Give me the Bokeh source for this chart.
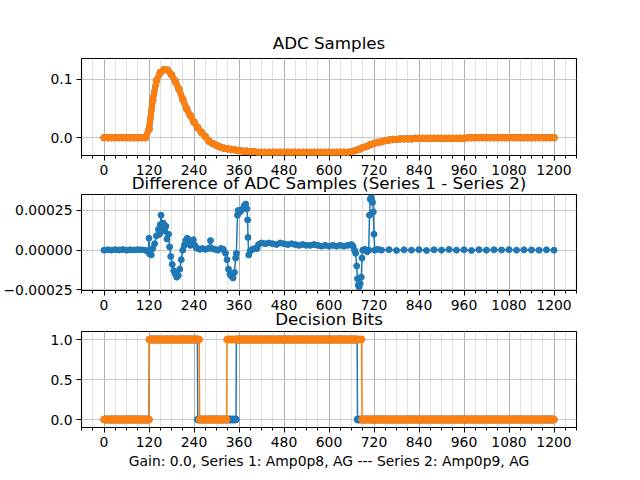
import numpy as np
from bokeh.plotting import figure
from bokeh.layouts import column
from bokeh.models import Range1d, FixedTicker, CustomJSTickFormatter, Title
from bokeh.embed import file_html
from bokeh.resources import INLINE

BLUE = "#1f77b4"
ORANGE = "#ff7f0e"
FONT = "DejaVu Sans"

# ADC samples, read every 10 samples (series 1 and 2 overlap at this scale)
adc_x = list(range(0, 1201, 10))
adc_samples = [
    0.0, 0.0, 0.0, 0.0, 0.0, 0.0, 0.0, 0.0, 0.0, 0.0, 0.0, 0.0,
    0.014, 0.065, 0.098, 0.112, 0.117, 0.116, 0.108, 0.097, 0.083, 0.066,
    0.050, 0.038, 0.027, 0.017, 0.009, 0.002, -0.006, -0.010, -0.013, -0.016,
    -0.018, -0.019, -0.020, -0.021, -0.022, -0.023, -0.023, -0.024, -0.024,
    -0.025, -0.025, -0.025, -0.025, -0.025, -0.025, -0.025, -0.025, -0.025,
    -0.025, -0.025, -0.025, -0.025, -0.025, -0.025, -0.025, -0.025, -0.025,
    -0.025, -0.025, -0.025, -0.025, -0.025, -0.025, -0.025,
    -0.024, -0.022, -0.020, -0.017, -0.015, -0.012, -0.010, -0.008, -0.007,
    -0.005, -0.004, -0.003, -0.003, -0.002, -0.002, -0.002, -0.002, -0.001,
    -0.001, -0.001, -0.001, -0.001, -0.001, -0.001, -0.001, -0.001, -0.001,
    -0.001, -0.001, -0.001, -0.001,
    0.0, 0.0, 0.0, 0.0, 0.0, 0.0, 0.0, 0.0, 0.0, 0.0, 0.0, 0.0, 0.0,
    0.0, 0.0, 0.0, 0.0, 0.0, 0.0, 0.0, 0.0, 0.0, 0.0, 0.0, 0.0,
]

# difference series 1 - series 2, in units of 1e-4
diff_x = [0, 10, 20, 30, 40, 50, 60, 70, 80, 90, 100, 110, 118, 120, 122, 126,
          130, 135, 140, 145, 148, 150, 152, 155, 158, 162, 165, 168, 172, 175,
          178, 182, 186, 190, 194, 198, 202, 206, 210, 214, 218, 222, 226, 230,
          234, 238, 242, 246, 250, 256, 262, 270, 278, 284, 288, 296, 304, 312,
          318, 324, 328, 332, 336, 340, 344, 348, 351, 353, 356, 358, 362, 366,
          370, 374, 378, 381, 383, 384, 386, 390, 396, 402, 408, 412, 420, 430,
          440, 450, 460, 470, 480, 490, 500, 510, 520, 530, 540, 550, 560, 570,
          580, 590, 600, 610, 620, 630, 640, 650, 660, 664, 668, 671, 674, 676,
          678, 680, 683, 686, 688, 690, 696, 702, 706, 708, 710, 712, 714, 716,
          718, 720, 722, 730, 740, 760, 780, 800, 820, 840, 860, 880, 900, 920,
          940, 960, 980, 1000, 1020, 1040, 1060, 1080, 1100, 1120, 1140, 1160,
          1180, 1200]
diff_e4 = [0.0, 0.02, 0.0, 0.03, 0.01, 0.04, 0.0, 0.02, 0.01, 0.03, 0.02, 0.0,
           -0.1, 0.75, -0.25, -0.3, 0.1, 0.4, 0.9, 1.3, 1.0, 1.6, 2.2, 1.5, 1.7,
           1.2, 1.5, 0.7, 1.0, 0.2, -0.4, -0.9, -1.3, -1.5, -1.7, -1.6, -1.2,
           -0.6, 0.0, 0.3, 0.6, 0.75, 0.6, 0.3, 0.5, 0.65, 0.3, 0.15, 0.1, 0.05,
           0.1, 0.05, 0.1, 0.6, 0.1, 0.05, 0.0, 0.1, 0.05, -0.2, -0.6, -1.2,
           -1.5, -1.65, -1.75, -1.4, -0.5, -0.2, 2.2, 2.5, 2.4, 2.5, 2.6, 2.8,
           2.9, 2.6, 1.9, 0.8, -0.3, -0.05, 0.05, 0.1, 0.1, 0.35, 0.45, 0.4,
           0.45, 0.4, 0.35, 0.45, 0.4, 0.35, 0.4, 0.35, 0.3, 0.35, 0.3, 0.3,
           0.35, 0.3, 0.25, 0.3, 0.25, 0.3, 0.25, 0.3, 0.25, 0.3, 0.35, 0.25,
           0.0, -0.2, -1.0, -1.8, -2.2, -2.3, -2.1, -1.7, -0.5, 0.0, 0.05, -0.1,
           0.0, 2.2, 3.2, 3.3, 3.1, 3.0, 2.4, 1.0, 0.0, 0.05, 0.0, 0.03, -0.02,
           0.02, 0.0, 0.03, -0.02, 0.02, 0.0, 0.04, 0.0, 0.02, -0.02, 0.03, 0.0,
           0.02, 0.01, 0.03, 0.0, 0.02, 0.01, 0.0, 0.02, 0.0]

# decision bits: sample ranges where the bit is 1
n_samples = 1201
bits1_on = [(121, 250), (353, 676)]
bits2_on = [(121, 255), (328, 688)]

x_ticks = list(range(0, 1201, 120))
x_minor = list(range(-60, 1261, 30))

title_text = ["ADC Samples",
              "Difference of ADC Samples (Series 1 - Series 2)",
              "Decision Bits"]
x_label = "Gain: 0.0, Series 1: Amp0p8, AG --- Series 2: Amp0p9, AG"


def make_fig(height, y_range, y_ticks, digits, top, bottom):
    p = figure(width=600, height=height, x_range=Range1d(-60, 1260),
               y_range=Range1d(*y_range), output_backend="svg",
               toolbar_location=None, title=None, min_border_left=80,
               min_border_right=24, min_border_top=top,
               min_border_bottom=bottom)
    p.outline_line_color = "black"
    p.outline_line_width = 1.1
    p.background_fill_color = "white"
    p.border_fill_color = "white"

    p.xaxis.ticker = FixedTicker(ticks=x_ticks, minor_ticks=x_minor)
    p.yaxis.ticker = FixedTicker(ticks=y_ticks)
    p.yaxis.formatter = CustomJSTickFormatter(
        args=dict(d=digits),
        code="return (tick < 0 ? '\u2212' : '') + Math.abs(tick).toFixed(d);")
    for ax in (p.xaxis, p.yaxis):
        ax.axis_line_color = None
        ax.major_tick_line_color = "black"
        ax.minor_tick_line_color = "black"
        ax.major_tick_out = 5
        ax.major_tick_in = 0
        ax.minor_tick_in = 0
        ax.major_label_text_font = FONT
        ax.major_label_text_font_size = "13.9px"
        ax.major_label_text_color = "black"
    p.xaxis.major_label_standoff = 4
    p.yaxis.major_label_standoff = 4
    p.xaxis.minor_tick_out = 3
    p.yaxis.minor_tick_out = 0

    p.xgrid.grid_line_color = "#b0b0b0"
    p.xgrid.minor_grid_line_color = "#e0e0e0"
    p.ygrid.grid_line_color = "#c8c8c8"
    p.ygrid.minor_grid_line_color = None
    return p


def add_title(p, text, place, standoff):
    p.add_layout(Title(text=text, align="center", standoff=standoff,
                       text_font=FONT, text_font_size="16.7px",
                       text_font_style="normal", text_color="black"), place)


# ADC samples (the next panel's title sits under this axis, as in matplotlib)
p1 = make_fig(192, (-0.0305, 0.136), [0.0, 0.1], 1, 58, 37)
p1.line(adc_x, adc_samples, color=BLUE, line_width=6)
p1.scatter(adc_x, adc_samples, color=BLUE, size=6.5)
p1.line(adc_x, adc_samples, color=ORANGE, line_width=6)
p1.scatter(adc_x, adc_samples, color=ORANGE, size=6.5)
add_title(p1, title_text[0], "above", 11)
add_title(p1, title_text[1], "below", -13)

# difference
diff_y = [v * 1e-4 for v in diff_e4]
p2 = make_fig(137, (-0.000254, 0.00035), [-0.00025, 0.0, 0.00025], 5, 2, 39)
p2.line(diff_x, diff_y, color=BLUE, line_width=1.5)
p2.scatter(diff_x, diff_y, color=BLUE, size=6)
add_title(p2, title_text[2], "below", -12)

# decision bits
samples = np.arange(n_samples)
bits1 = np.zeros(n_samples)
for a, b in bits1_on:
    bits1[a:b] = 1
bits2 = np.zeros(n_samples)
for a, b in bits2_on:
    bits2[a:b] = 1

p3 = make_fig(143, (-0.1, 1.1), [0.0, 0.5, 1.0], 1, 2, 45)
p3.line(samples, bits1, color=BLUE, line_width=1.5)
p3.scatter(samples, bits1, color=BLUE, size=6.5)
p3.line(samples, bits2, color=ORANGE, line_width=1.5)
p3.scatter(samples, bits2, color=ORANGE, size=6.5)
p3.xaxis.axis_label = x_label
p3.xaxis.axis_label_text_font = FONT
p3.xaxis.axis_label_text_font_size = "13.9px"
p3.xaxis.axis_label_text_font_style = "normal"
p3.xaxis.axis_label_text_color = "black"
p3.xaxis.axis_label_standoff = 3

layout = column(p1, p2, p3, spacing=0)
open("out.html", "w").write(file_html(layout, INLINE))
